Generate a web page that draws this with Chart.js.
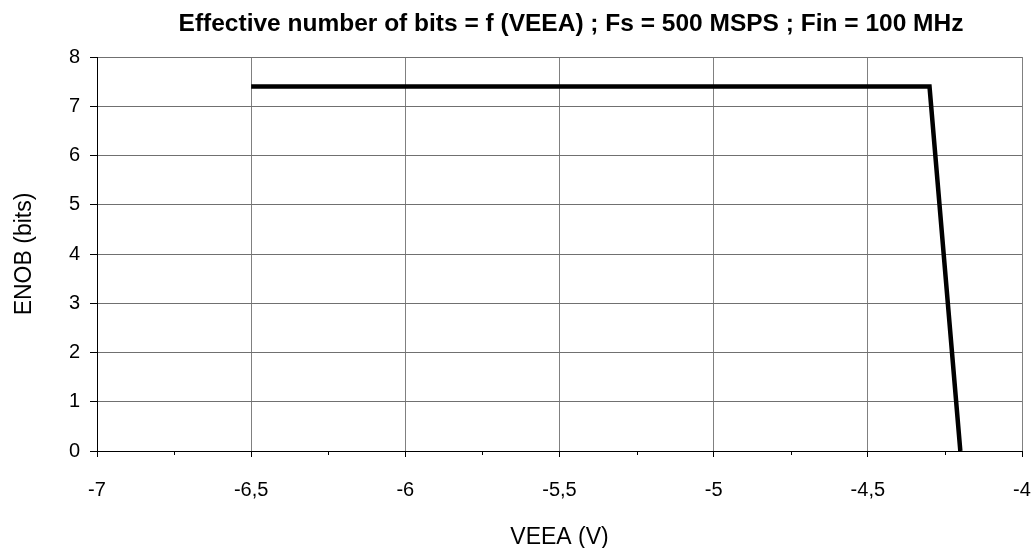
<!DOCTYPE html>
<html>
<head>
<meta charset="utf-8">
<script src="https://cdn.jsdelivr.net/npm/chart.js@4.4.0/dist/chart.umd.min.js"></script>
<style>
  html, body { margin: 0; padding: 0; background: #fff; }
  #wrap { width: 1034px; height: 548px; }
</style>
</head>
<body>
<div id="wrap"><canvas id="chart" width="1034" height="548"></canvas></div>
<script>
// values
const veea = [-6.5, -4.3, -4.2];
const enob = [7.4, 7.4, 0];
const xTicks = [-7, -6.5, -6, -5.5, -5, -4.5, -4];
const yTicks = [0, 1, 2, 3, 4, 5, 6, 7, 8];

const fontFamily = "'Liberation Sans', Arial, sans-serif";

// small minor ticks between the labelled x ticks
const minorTicks = {
  id: 'minorTicks',
  afterLayout(chart) {
    // title sits a little right of the plot centre in the original
    if (chart.titleBlock) chart.titleBlock.left += 23;
  },
  afterDraw(chart) {
    const x = chart.scales.x;
    const ctx = chart.ctx;
    const bottom = chart.chartArea.bottom;
    ctx.save();
    ctx.strokeStyle = '#000';
    ctx.lineWidth = 1;
    for (let i = 0; i < xTicks.length - 1; i++) {
      const v = (xTicks[i] + xTicks[i + 1]) / 2;
      const px = Math.round(x.getPixelForValue(v)) + 0.5;
      ctx.beginPath();
      ctx.moveTo(px, bottom);
      ctx.lineTo(px, bottom + 4);
      ctx.stroke();
    }
    ctx.restore();
  }
};

const ctx = document.getElementById('chart').getContext('2d');
new Chart(ctx, {
  type: 'scatter',
  data: {
    datasets: [{
      data: veea.map((v, i) => ({ x: v, y: enob[i] })),
      showLine: true,
      borderColor: '#000',
      borderWidth: 4.5,
      pointRadius: 0,
      tension: 0
    }]
  },
  options: {
    responsive: false,
    animation: false,
    layout: { padding: { left: 0, right: 12, top: 0, bottom: 0 } },
    plugins: {
      legend: { display: false },
      tooltip: { enabled: false },
      title: {
        display: true,
        fullSize: false,
        text: 'Effective number of bits = f (VEEA) ; Fs = 500 MSPS ; Fin = 100 MHz',
        color: '#000',
        font: { family: fontFamily, size: 24.5, weight: 'bold' },
        padding: { top: 10, bottom: 17.6 }
      }
    },
    scales: {
      x: {
        type: 'linear',
        min: -7,
        max: -4,
        afterBuildTicks: s => { s.ticks = xTicks.map(v => ({ value: v })); },
        afterFit: s => { s.height = 97; s.paddingLeft = 0; s.paddingRight = 0; },
        ticks: {
          color: '#000',
          padding: 21,
          maxRotation: 0,
          font: { family: fontFamily, size: 20 },
          callback: v => String(v).replace('.', ',')
        },
        grid: {
          color: '#808080',
          tickColor: '#000',
          tickLength: 6,
          lineWidth: 1
        },
        border: { color: '#000', width: 1 },
        title: {
          display: true,
          text: 'VEEA (V)',
          color: '#000',
          font: { family: fontFamily, size: 23 },
          padding: { top: 0, bottom: -3 }
        }
      },
      y: {
        min: 0,
        max: 8,
        afterBuildTicks: s => { s.ticks = yTicks.map(v => ({ value: v })); },
        afterFit: s => { s.width = 97; s.paddingTop = 0; s.paddingBottom = 0; },
        ticks: {
          color: '#000',
          padding: 10,
          font: { family: fontFamily, size: 20 }
        },
        grid: {
          color: '#707070',
          tickColor: '#000',
          tickLength: 7,
          lineWidth: 1
        },
        border: { color: '#000', width: 1 },
        title: {
          display: true,
          text: 'ENOB (bits)',
          color: '#000',
          font: { family: fontFamily, size: 23 },
          padding: { top: 11, bottom: 0 }
        }
      }
    }
  },
  plugins: [minorTicks]
});
</script>
</body>
</html>
